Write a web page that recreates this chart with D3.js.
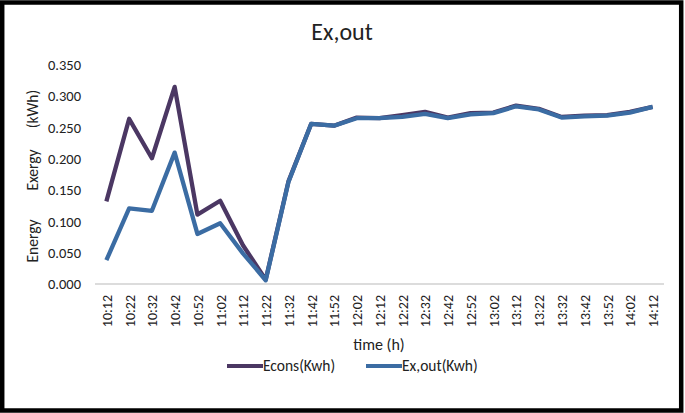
<!DOCTYPE html>
<html>
<head>
<meta charset="utf-8">
<script src="https://cdn.jsdelivr.net/npm/d3@7"></script>
<style>
  body { margin: 0; background: #fff; }
  svg text { font-family: Calibri, Carlito, "Noto Sans", sans-serif; fill: #222; }
</style>
</head>
<body>
<svg id="chart" width="685" height="413"></svg>
<script>
// time labels (x axis)
var times = ["10:12","10:22","10:32","10:42","10:52","11:02","11:12","11:22","11:32","11:42",
    "11:52","12:02","12:12","12:22","12:32","12:42","12:52","13:02","13:12","13:22",
    "13:32","13:42","13:52","14:02","14:12"];

// Econs (kWh)
var econs = [0.132, 0.264, 0.201, 0.315, 0.111, 0.133, 0.062, 0.007, 0.164, 0.256,
    0.253, 0.266, 0.265, 0.270, 0.275, 0.266, 0.273, 0.274, 0.285, 0.280,
    0.267, 0.269, 0.270, 0.275, 0.283];

// Ex,out (kWh)
var exout = [0.038, 0.121, 0.117, 0.210, 0.080, 0.097, 0.049, 0.006, 0.163, 0.256,
    0.253, 0.265, 0.265, 0.267, 0.272, 0.265, 0.271, 0.273, 0.284, 0.279,
    0.266, 0.268, 0.269, 0.274, 0.283];

var yTicks = [0, 0.05, 0.1, 0.15, 0.2, 0.25, 0.3, 0.35];

var series = [
    {name: "Econs(Kwh)", values: econs, color: "#4b3763"},
    {name: "Ex,out(Kwh)", values: exout, color: "#3b6ca3"}
];

var svg = d3.select("#chart");

// outer frame
svg.append("rect")
    .attr("x", 2.2).attr("y", 2.5)
    .attr("width", 679).attr("height", 408)
    .style("fill", "none")
    .style("stroke", "#000")
    .style("stroke-width", 4.5);

var x = d3.scalePoint().domain(times).range([95, 664]).padding(0.5);
var y = d3.scaleLinear().domain([0, 0.35]).range([284, 65]);

// title
svg.append("text")
    .attr("x", 342).attr("y", 40)
    .attr("text-anchor", "middle")
    .style("font-size", "24px")
    .text("Ex,out");

// y axis labels
var yAxis = svg.append("g")
    .attr("transform", "translate(95,0)")
    .call(d3.axisLeft(y).tickValues(yTicks).tickFormat(d3.format(".3f")).tickSize(0).tickPadding(14));
yAxis.select(".domain").remove();
yAxis.selectAll("text").style("font-size", "14.5px").style("fill", "#222");

// x axis
var xAxis = svg.append("g")
    .attr("transform", "translate(0,284)")
    .call(d3.axisBottom(x).tickSize(0).tickPadding(6));
xAxis.select(".domain")
    .attr("d", "M95,0H664")
    .style("stroke", "#d0d0d0")
    .style("stroke-width", 1.5);
xAxis.selectAll("text")
    .attr("transform", "rotate(-90)")
    .attr("text-anchor", "end")
    .attr("x", -11).attr("y", 0).attr("dy", "0.35em")
    .style("font-size", "14px")
    .style("fill", "#222");

// y axis title pieces
[["Energy", 241], ["Exergy", 170], ["(kWh)", 109]].forEach(function(p) {
    svg.append("text")
        .attr("transform", "translate(38," + p[1] + ") rotate(-90)")
        .attr("text-anchor", "middle")
        .style("font-size", "15.5px")
        .text(p[0]);
});

// x axis title
svg.append("text")
    .attr("x", 379).attr("y", 350)
    .attr("text-anchor", "middle")
    .style("font-size", "16px")
    .text("time (h)");

var line = d3.line()
    .x(function(d, i) { return x(times[i]); })
    .y(function(d) { return y(d); });

svg.append("g").selectAll("path")
    .data(series)
    .enter().append("path")
    .attr("d", function(d) { return line(d.values); })
    .style("fill", "none")
    .style("stroke", function(d) { return d.color; })
    .style("stroke-width", 4.3)
    .style("stroke-linejoin", "round");

// legend
var legend = svg.append("g").selectAll("g")
    .data(series)
    .enter().append("g")
    .attr("transform", function(d, i) { return "translate(" + (227 + i * 139) + ",366)"; });
legend.append("line")
    .attr("x1", 0).attr("x2", 36)
    .style("stroke", function(d) { return d.color; })
    .style("stroke-width", 4);
legend.append("text")
    .attr("x", 36).attr("dy", "0.35em")
    .style("font-size", "15.5px")
    .text(function(d) { return d.name; });
</script>
</body>
</html>
